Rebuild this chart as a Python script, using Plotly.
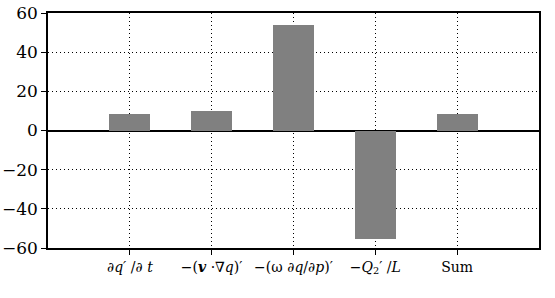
import plotly.graph_objects as go

categories = ["<i>∂q′</i> /<i>∂ t</i>", "−(<b><i>v</i></b> ·∇<i>q</i>)′", "−(ω <i>∂q</i>/<i>∂p</i>)′",
              "−<i>Q</i><sub>2</sub>′ /<i>L</i>", "Sum"]
positions = [1, 2, 3, 4, 5]
values = [8.4, 10.0, 53.9, -55.6, 8.4]
y_ticks = [-60, -40, -20, 0, 20, 40, 60]
y_labels = ["−60", "−40", "−20", "0", "20", "40", "60"]

SERIF = "DejaVu Serif"

fig = go.Figure(go.Bar(x=positions, y=values, width=0.5, marker=dict(color="#808080", line=dict(width=0)),
                       hoverinfo="skip"))

fig.update_layout(
    width=555, height=298,
    margin=dict(l=48, r=16, t=13, b=50),
    plot_bgcolor="white", paper_bgcolor="white",
    font=dict(family=SERIF, size=15, color="black"),
    showlegend=False,
    bargap=0,
)
fig.update_xaxes(
    range=[0, 6], tickvals=positions, ticktext=categories, tickangle=0,
    showline=True, linecolor="black", linewidth=1.5, mirror=True,
    ticks="outside", ticklen=5, tickcolor="black",
    showgrid=True, gridcolor="black", griddash="1px,3px", gridwidth=1,
    zeroline=False, tickfont=dict(family=SERIF, size=14), automargin=False,
)
fig.update_yaxes(
    range=[-60, 60], tickvals=y_ticks, ticktext=y_labels,
    showline=True, linecolor="black", linewidth=1.5, mirror=True,
    ticks="outside", ticklen=5, tickcolor="black",
    showgrid=True, gridcolor="black", griddash="1px,3px", gridwidth=1,
    zeroline=True, zerolinecolor="black", zerolinewidth=1.5,
    tickfont=dict(family=SERIF, size=17), automargin=False,
)
fig.write_html("out.html", config={"displayModeBar": False},
               post_script="document.body.style.margin='0';document.body.style.padding='0';")
